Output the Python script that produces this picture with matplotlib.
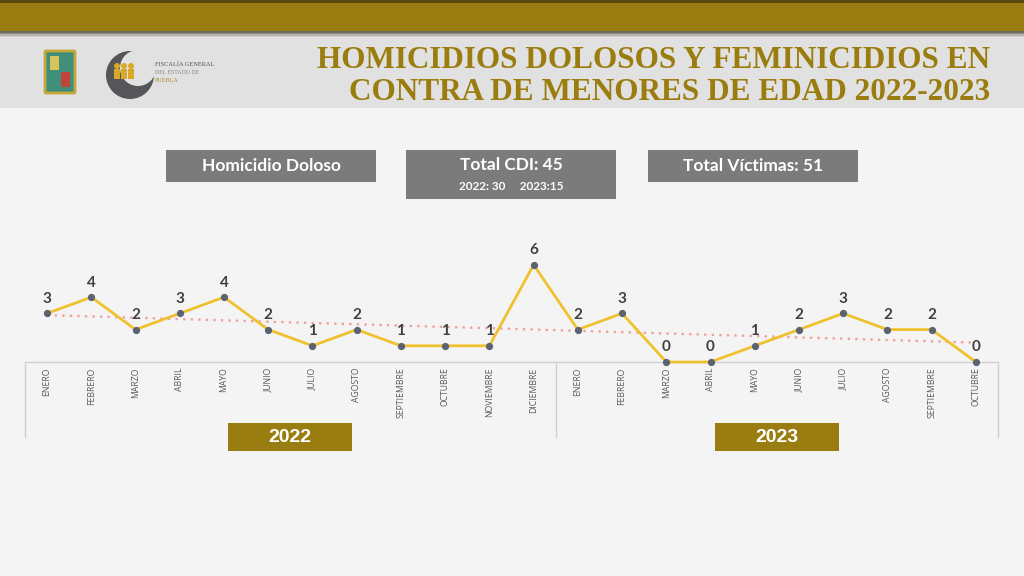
import numpy as np
import matplotlib
matplotlib.use("Agg")
import matplotlib.pyplot as plt
from matplotlib.patches import Rectangle, Circle, FancyBboxPatch
import matplotlib.transforms as mtransforms

# ---------------- data ----------------
months_2022 = ["ENERO", "FEBRERO", "MARZO", "ABRIL", "MAYO", "JUNIO", "JULIO",
               "AGOSTO", "SEPTIEMBRE", "OCTUBRE", "NOVIEMBRE", "DICIEMBRE"]
months_2023 = ["ENERO", "FEBRERO", "MARZO", "ABRIL", "MAYO", "JUNIO", "JULIO",
               "AGOSTO", "SEPTIEMBRE", "OCTUBRE"]
values_2022 = [3, 4, 2, 3, 4, 2, 1, 2, 1, 1, 1, 6]
values_2023 = [2, 3, 0, 0, 1, 2, 3, 2, 2, 0]
years = ["2022", "2023"]
title_lines = ["HOMICIDIOS DOLOSOS Y FEMINICIDIOS EN",
               "CONTRA DE MENORES DE EDAD 2022-2023"]
box_texts = ["Homicidio Doloso", "Total CDI: 45", "Total Víctimas: 51"]
cdi_sub = "2022: 30     2023:15"

GOLD = "#9a7d10"
TITLE_GOLD = "#9b7d0f"
LINE = "#f0c12e"
MARK = "#5b6272"
BOXGRAY = "#7b7b7b"

W, H = 1024, 576
fig = plt.figure(figsize=(W / 100, H / 100), dpi=100)
fig.patch.set_facecolor("#f4f4f4")

# overlay axes in pixel coordinates
bg = fig.add_axes([0, 0, 1, 1])
bg.set_xlim(0, W)
bg.set_ylim(H, 0)
bg.axis("off")
bg.set_zorder(0)

# top gold bar with shadows
bg.add_patch(Rectangle((0, 0), W, 36, color="#5a4a10", lw=0))
bg.add_patch(Rectangle((0, 3), W, 28, color=GOLD, lw=0))
for i, c in enumerate(["#6e6a5e", "#8e8b84", "#b5b3ae", "#cfcecc"]):
    bg.add_patch(Rectangle((0, 31 + i * 1.5), W, 1.6, color=c, lw=0))
# header band
bg.add_patch(Rectangle((0, 37), W, 71, color="#e1e1e1", lw=0))

# simple logos
bg.add_patch(FancyBboxPatch((46, 52), 28, 40, boxstyle="round,pad=1", fc="#3f8f7a", ec="#c9a53a", lw=2))
bg.add_patch(Rectangle((50, 56), 9, 14, color="#d8c45a", lw=0))
bg.add_patch(Rectangle((61, 72), 9, 15, color="#c0443a", lw=0))
bg.add_patch(Circle((130, 75), 24, color="#555659", lw=0))
bg.add_patch(Circle((138, 68), 18, color="#e1e1e1", lw=0))
for cx in (117, 124, 131):
    bg.add_patch(Circle((cx, 66), 3, color="#d8a929", lw=0))
    bg.add_patch(Rectangle((cx - 3, 69), 6, 10, color="#d8a929", lw=0))
bg.text(155, 64, "FISCALÍA GENERAL", fontsize=4.6, family="Liberation Serif", color="#555555", va="center")
bg.text(155, 72, "DEL ESTADO DE", fontsize=4.2, family="Liberation Serif", color="#888888", va="center")
bg.text(155, 80, "PUEBLA", fontsize=4.4, family="Liberation Serif", color="#b08a20", va="center")

# title
bg.text(990, 60, title_lines[0], ha="right", va="center", fontsize=22.5, fontweight="bold",
        family="Liberation Serif", color=TITLE_GOLD)
bg.text(990, 92, title_lines[1], ha="right", va="center", fontsize=22.5, fontweight="bold",
        family="Liberation Serif", color=TITLE_GOLD)

# info boxes
FONT = "Lato"
bg.add_patch(Rectangle((166, 150), 210, 32, color=BOXGRAY, lw=0))
bg.text(271, 166, box_texts[0], ha="center", va="center", color="white", fontsize=12.5,
        fontweight="bold", family=FONT)
bg.add_patch(Rectangle((406, 150), 210, 49, color=BOXGRAY, lw=0))
bg.text(511, 165, box_texts[1], ha="center", va="center", color="white", fontsize=12.5,
        fontweight="bold", family=FONT)
bg.text(511, 187, cdi_sub, ha="center", va="center", color="white", fontsize=8.5,
        fontweight="bold", family=FONT)
bg.add_patch(Rectangle((648, 150), 210, 32, color=BOXGRAY, lw=0))
bg.text(753, 166, box_texts[2], ha="center", va="center", color="white", fontsize=12.5,
        fontweight="bold", family=FONT)

# ---------------- chart ----------------
labels = months_2022 + months_2023
values = values_2022 + values_2023
x = np.arange(len(values))

left, right, y0 = 25, 998, 362
ytop = 362 - 7 * 16.2
ax = fig.add_axes([left / W, 1 - y0 / H, (right - left) / W, (y0 - ytop) / H])
ax.set_zorder(2)
ax.patch.set_alpha(0)
ax.set_xlim(-0.5, len(values) - 0.5)
ax.set_ylim(0, 7)
for s in ["top", "right", "left"]:
    ax.spines[s].set_visible(False)
ax.spines["bottom"].set_color("#d0d0d0")
ax.spines["bottom"].set_linewidth(1.0)
ax.set_yticks([])
ax.set_xticks(x)
ax.set_xticklabels(labels, rotation=90, fontsize=6.2, color="#595959", family="Open Sans", va="top")
ax.tick_params(axis="x", length=0, pad=4)

# trend line (linear fit of the series)
coef = np.polyfit(x, values, 1)
ax.plot(x, np.polyval(coef, x), linestyle=(0, (1, 2.2)), color="#f0a0a0", lw=1.7, zorder=2)

ax.plot(x, values, color=LINE, lw=2.0, zorder=3, clip_on=False)
ax.plot(x, values, "o", color=MARK, ms=4.2, zorder=4, clip_on=False)
for xi, v in zip(x, values):
    ax.annotate(str(v), (xi, v), xytext=(0, 5.5), textcoords="offset points", ha="center",
                va="bottom", fontsize=11, fontweight="bold", color="#404040", family=FONT)

# group separators and year boxes
trans = mtransforms.blended_transform_factory(ax.transData, bg.transData)
n22 = len(values_2022)
for xs in [-0.5, n22 - 0.5, len(values) - 0.5]:
    bg.plot([xs, xs], [362, 437], color="#d0d0d0", lw=1.0, transform=trans, clip_on=False)
centers = [(n22 - 1) / 2, n22 + (len(values_2023) - 1) / 2]
for c, yr in zip(centers, years):
    xc = ax.transData.transform((c, 0))[0]
    bg.add_patch(Rectangle((xc - 62, 423), 124, 28, color=GOLD, lw=0, zorder=1))
    bg.text(xc, 437, yr, ha="center", va="center", color="white", fontsize=14,
            fontweight="bold", family="Liberation Sans", zorder=2)

fig.savefig("out.png", dpi=100, facecolor=fig.get_facecolor())
